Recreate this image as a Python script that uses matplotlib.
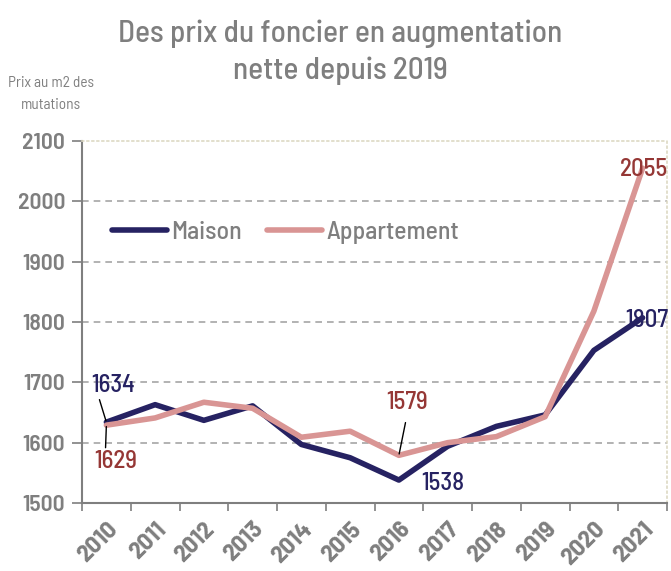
import matplotlib.pyplot as plt
import numpy as np

# Data
years = ["2010", "2011", "2012", "2013", "2014", "2015",
         "2016", "2017", "2018", "2019", "2020", "2021"]
maison = [1634, 1663, 1637, 1661, 1597, 1575, 1538, 1594, 1627, 1646, 1753, 1807]
appartement = [1629, 1641, 1667, 1657, 1609, 1619, 1579, 1600, 1610, 1643, 1818, 2055]

NAVY = "#262262"
PINK = "#D99594"
DARKRED = "#953735"
GRAY = "#7F7F7F"
FONT = ["Barlow Semi Condensed", "DejaVu Sans"]

plt.rcParams["font.family"] = FONT

fig = plt.figure(figsize=(6.71, 5.71), dpi=100)
ax = fig.add_axes([82 / 671, 1 - 503 / 571, 585 / 671, 362 / 571])

x = np.arange(len(years))
ax.plot(x, maison, color=NAVY, lw=4, label="Maison", solid_capstyle="round")
ax.plot(x, appartement, color=PINK, lw=4, label="Appartement", solid_capstyle="round")

ax.set_xlim(-0.5, len(years) - 0.5)
ax.set_ylim(1500, 2100)
ax.set_yticks(range(1500, 2101, 100))
ax.set_xticks(x)
ax.set_xticklabels(years, rotation=45, ha="right", rotation_mode="anchor",
                   fontsize=18, fontweight="bold", color=GRAY)
ax.set_xticks(np.arange(-0.5, len(years)), minor=True)
ax.tick_params(axis="x", which="major", length=0, pad=11)
ax.tick_params(axis="x", which="minor", length=6, color=GRAY, width=1.2)
ax.tick_params(axis="y", length=7, color=GRAY, width=1.2, labelsize=17,
               labelcolor=GRAY, pad=5)
for lab in ax.get_yticklabels():
    lab.set_fontweight("semibold")

for yv in range(1600, 2100, 100):
    ax.axhline(yv, color="#A6A6A6", lw=1.2, ls=(0, (4, 3)), zorder=0)

for side in ["left", "bottom"]:
    ax.spines[side].set_color(GRAY)
    ax.spines[side].set_linewidth(1.5)
for side in ["top", "right"]:
    ax.spines[side].set_color("#DDD9C3")
    ax.spines[side].set_linestyle((0, (1, 2)))
    ax.spines[side].set_linewidth(1.2)

leg = ax.legend(loc="center left", bbox_to_anchor=(0.051, 0.747), ncol=2, frameon=False,
                fontsize=18.5, handlelength=2.15, columnspacing=1.0, handletextpad=0.15,
                borderaxespad=0, borderpad=0)
for t in leg.get_texts():
    t.set_color(GRAY)
    t.set_fontweight("medium")

# annotations
lab_kw = dict(fontsize=18, fontweight="medium")
ax.annotate("1634", xy=(0, maison[0]), xytext=(0.14, 1695), color=NAVY,
            arrowprops=dict(arrowstyle="-", color="black", lw=1, relpos=(0.15, 0.1),
                            shrinkA=0, shrinkB=1),
            ha="center", va="center", **lab_kw)
ax.annotate("1629", xy=(0, appartement[0]), xytext=(0.2, 1568), color=DARKRED,
            arrowprops=dict(arrowstyle="-", color="black", lw=1, relpos=(0.25, 0.95),
                            shrinkA=0, shrinkB=1),
            ha="center", va="center", **lab_kw)
ax.annotate("1579", xy=(6, appartement[6]), xytext=(6.17, 1666), color=DARKRED,
            arrowprops=dict(arrowstyle="-", color="black", lw=1, relpos=(0.5, 0.0),
                            shrinkA=4, shrinkB=1),
            ha="center", va="center", **lab_kw)
ax.text(6.9, 1533, "1538", color=NAVY, ha="center", va="center", **lab_kw)
ax.text(11.52, 2052, "2055", color=DARKRED, ha="right", va="center", **lab_kw)
ax.text(11.52, 1803, "1807", color=NAVY, ha="right", va="center", **lab_kw)

fig.text(340 / 671, 1 - 52 / 571, "Des prix du foncier en augmentation\nnette depuis 2019",
         ha="center", va="center", fontsize=22.5, fontweight="medium", color=GRAY,
         linespacing=1.4)
fig.text(51 / 671, 1 - 94 / 571, "Prix au m2 des\nmutations", ha="center", va="center",
         fontsize=11, color=GRAY, linespacing=1.7)

fig.savefig("out.png", dpi=100)
